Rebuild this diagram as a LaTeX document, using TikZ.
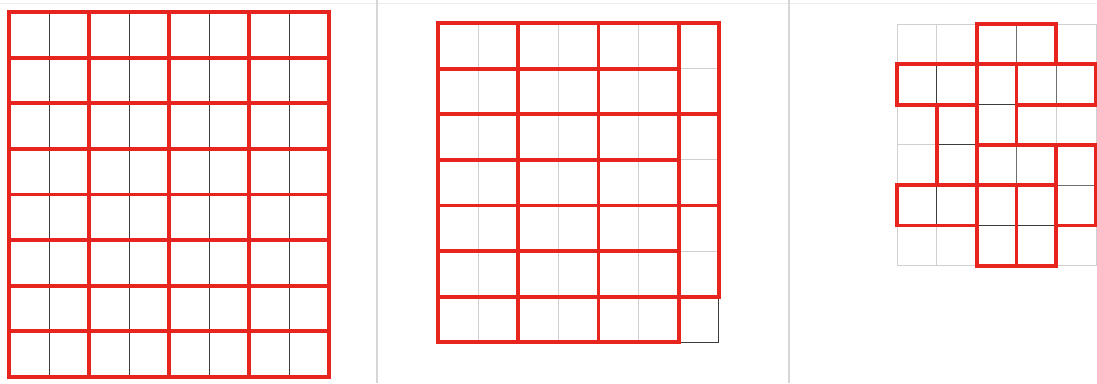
\documentclass[tikz,border=0pt]{standalone}
\definecolor{tilered}{RGB}{232,36,30}
\definecolor{seamdark}{RGB}{60,60,60}
\definecolor{seamgray}{RGB}{110,110,110}
\definecolor{seamlight}{RGB}{208,208,208}
\definecolor{panelline}{RGB}{214,214,214}

\begin{document}
\begin{tikzpicture}[
  x=1pt, y=-1pt,
  tile/.style={draw=tilered,line width=3.8pt,line join=miter},
  seam/.style={draw=seamdark,line width=0.9pt},
  midseam/.style={draw=seamgray,line width=0.9pt},
  faint/.style={draw=seamlight,line width=0.9pt},
  divider/.style={draw=panelline,line width=1.2pt}
]
\useasboundingbox (0,0) rectangle (1097,383);

% Panels
\draw[draw=black!7,line width=0.8pt] (0,3) -- (1097,3);
\draw[divider] (377,0) -- (377,383);
\draw[divider] (789,0) -- (789,383);

% Left: 8x8 board
\begin{scope}[shift={(9,12)}, x=40pt, y=-45.6pt]
  \foreach \r in {0,...,7}
    \foreach \c in {1,3,5,7}
      \draw[seam] (\c,\r) -- (\c,\r+1);
  \foreach \r in {0,...,7}
    \foreach \c in {0,2,4,6}
      \draw[tile] (\c,\r) rectangle (\c+2,\r+1);
\end{scope}

% Middle: 7x7 board, one cell left over
\begin{scope}[shift={(438,23)}, x=40.1pt, y=-45.6pt]
  \foreach \r in {0,...,6}
    \foreach \c in {1,3,5}
      \draw[faint] (\c,\r) -- (\c,\r+1);
  \foreach \r in {1,3,5}
    \draw[faint] (6,\r) -- (7,\r);
  \draw[seam] (7,6) |- (6,7);
  \foreach \r in {0,...,6}
    \foreach \c in {0,2,4}
      \draw[tile] (\c,\r) rectangle (\c+2,\r+1);
  \foreach \r in {0,2,4}
    \draw[tile] (6,\r) rectangle (7,\r+2);
\end{scope}

% Right: 5x6 board, partial tiling
\begin{scope}[shift={(897,24)}, x=39.8pt, y=-40.3pt]
  \foreach \c in {0,...,5}
    \draw[faint] (\c,0) -- (\c,6);
  \foreach \r in {0,...,6}
    \draw[faint] (0,\r) -- (5,\r);
  \draw[seam] (1,1) -- (1,2) (2,2) -- (3,2) (1,3) -- (2,3) (1,4) -- (1,5) (2,5) -- (4,5);
  \draw[midseam] (3,0) -- (3,1) (4,1) -- (4,2) (3,3) -- (3,4) (4,4) -- (5,4);
  \foreach \c/\r/\w/\h in {2/0/2/1, 0/1/2/1, 2/1/1/2, 3/1/2/1, 1/2/1/2,
                           2/3/2/1, 4/3/1/2, 0/4/2/1, 2/4/1/2, 3/4/1/2}
    \draw[tile] (\c,\r) rectangle ++(\w,\h);
\end{scope}

\end{tikzpicture}
\end{document}
